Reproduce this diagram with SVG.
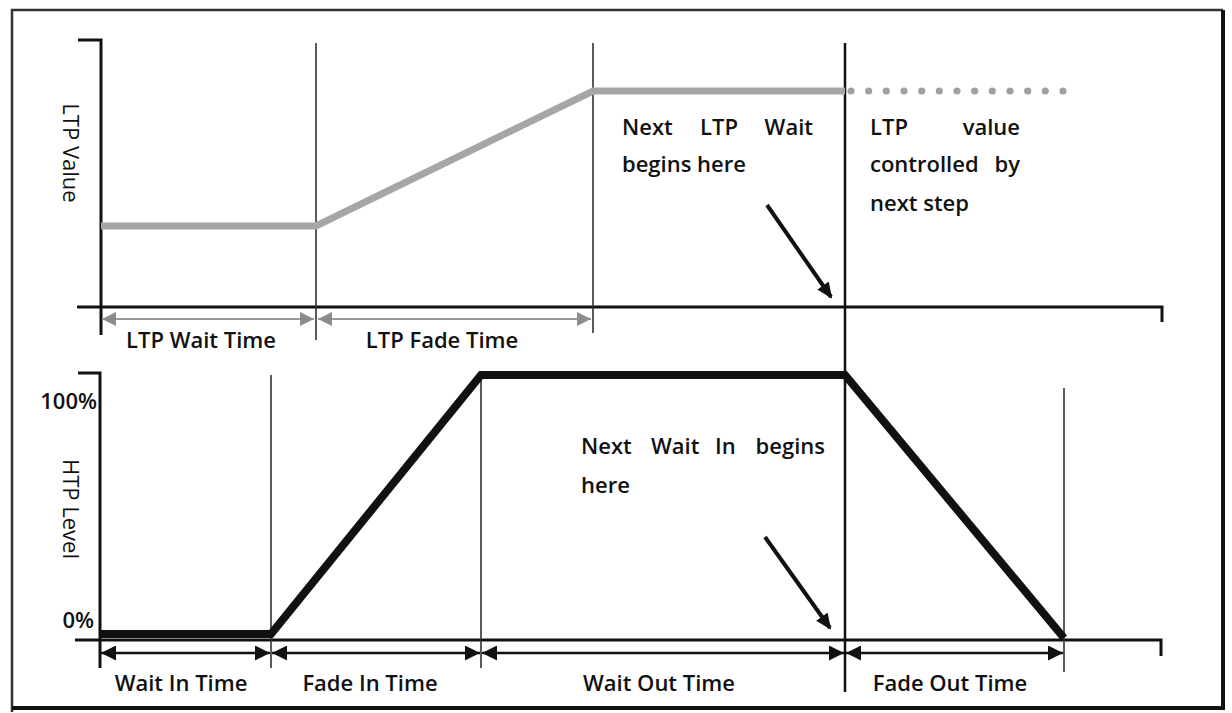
<svg xmlns="http://www.w3.org/2000/svg" width="1232" height="713" viewBox="0 0 1232 713">
<defs>
<style>
.txt{font-family:"Open Sans","Liberation Sans",sans-serif;font-weight:600;font-size:22px;fill:#111}
.axlbl{font-family:"Open Sans","Liberation Sans",sans-serif;font-size:22px;fill:#111}
.axis{fill:none;stroke:#111;stroke-width:3}
.guide{stroke:#333;stroke-width:1.6}
.gdim{stroke:#999;stroke-width:2.2;fill:none}
.bdim{stroke:#111;stroke-width:2.6;fill:none}
.call{stroke:#111;stroke-width:4}
</style>
<marker id="ga" viewBox="0 0 14 14" refX="14" refY="7" markerWidth="14" markerHeight="14" markerUnits="userSpaceOnUse" orient="auto-start-reverse">
<path d="M0,0 L14,7 L0,14 Z" fill="#8c8c8c"/>
</marker>
<marker id="ba" viewBox="0 0 15 15" refX="15" refY="7.5" markerWidth="15" markerHeight="15" markerUnits="userSpaceOnUse" orient="auto-start-reverse">
<path d="M0,0 L15,7.5 L0,15 Z" fill="#111"/>
</marker>
<marker id="ca" viewBox="0 0 16 16" refX="14" refY="8" markerWidth="16" markerHeight="16" markerUnits="userSpaceOnUse" orient="auto">
<path d="M0,1 L16,8 L0,15 Z" fill="#111"/>
</marker>
</defs>
<rect width="1232" height="713" fill="#fff"/>
<g id="frame">
<path d="M12,712 V10 H1223" fill="none" stroke="#333" stroke-width="2.5"/>
<path d="M1223,10 V708 H12" fill="none" stroke="#111" stroke-width="4"/>
</g>
<g id="ltp-panel">
<path class="axis" d="M78,40 H101 V335"/>
<path class="axis" d="M77,307 H1162 V322"/>
<line class="guide" x1="316" y1="43" x2="316" y2="340"/>
<line class="guide" x1="593" y1="43" x2="593" y2="333"/>
<line x1="845" y1="43" x2="845" y2="692" stroke="#111" stroke-width="2.5"/>
<polyline points="101,226 316,226 593,91 845,91" fill="none" stroke="#a6a6a6" stroke-width="7"/>
<g fill="#a0a0a0">
<circle cx="851" cy="91" r="3.6"/><circle cx="868.7" cy="91" r="3.6"/><circle cx="886.3" cy="91" r="3.6"/><circle cx="904" cy="91" r="3.6"/><circle cx="921.7" cy="91" r="3.6"/><circle cx="939.3" cy="91" r="3.6"/><circle cx="957" cy="91" r="3.6"/><circle cx="974.7" cy="91" r="3.6"/><circle cx="992.3" cy="91" r="3.6"/><circle cx="1010" cy="91" r="3.6"/><circle cx="1027.7" cy="91" r="3.6"/><circle cx="1045.3" cy="91" r="3.6"/><circle cx="1063" cy="91" r="3.6"/>
</g>
<text class="axlbl" transform="translate(63,153) rotate(90)" text-anchor="middle">LTP Value</text>
</g>
<g id="htp-panel">
<path class="axis" d="M78,373 H100 V668"/>
<path class="axis" d="M75,640 H1161 V656"/>
<line class="guide" x1="271" y1="375" x2="271" y2="668"/>
<line class="guide" x1="481" y1="375" x2="481" y2="668"/>
<line class="guide" x1="1064" y1="388" x2="1064" y2="672"/>
<polyline points="100,634 271,634 481,375 845,375 1064,638" fill="none" stroke="#111" stroke-width="8"/>
<text class="txt" x="97" y="409" text-anchor="end">100%</text>
<text class="txt" x="94" y="628" text-anchor="end">0%</text>
<text class="axlbl" transform="translate(63,509) rotate(90)" text-anchor="middle">HTP Level</text>
</g>
<g id="connectors">
<line class="gdim" x1="102" y1="319" x2="314" y2="319" marker-start="url(#ga)" marker-end="url(#ga)"/>
<line class="gdim" x1="318" y1="319" x2="591" y2="319" marker-start="url(#ga)" marker-end="url(#ga)"/>
<line class="bdim" x1="101" y1="653" x2="270" y2="653" marker-start="url(#ba)" marker-end="url(#ba)"/>
<line class="bdim" x1="272" y1="653" x2="480" y2="653" marker-start="url(#ba)" marker-end="url(#ba)"/>
<line class="bdim" x1="482" y1="653" x2="844" y2="653" marker-start="url(#ba)" marker-end="url(#ba)"/>
<line class="bdim" x1="846" y1="653" x2="1063" y2="653" marker-start="url(#ba)" marker-end="url(#ba)"/>
<line class="call" x1="767" y1="205" x2="831" y2="297" marker-end="url(#ca)"/>
<line class="call" x1="765" y1="537" x2="830" y2="628" marker-end="url(#ca)"/>
</g>
<g id="labels">
<text class="txt" x="201" y="348" text-anchor="middle">LTP Wait Time</text>
<text class="txt" x="442" y="348" text-anchor="middle">LTP Fade Time</text>
<text class="txt" x="181" y="691" text-anchor="middle">Wait In Time</text>
<text class="txt" x="370" y="691" text-anchor="middle">Fade In Time</text>
<text class="txt" x="659" y="691" text-anchor="middle">Wait Out Time</text>
<text class="txt" x="950" y="691" text-anchor="middle">Fade Out Time</text>
</g>
<g id="note-ltp-wait">
<text class="txt" y="135"><tspan x="622">Next</tspan><tspan x="700">LTP</tspan><tspan x="813" text-anchor="end">Wait</tspan></text>
<text class="txt" x="622" y="172">begins here</text>
</g>
<g id="note-ltp-value">
<text class="txt" y="135"><tspan x="870">LTP</tspan><tspan x="1020" text-anchor="end">value</tspan></text>
<text class="txt" y="172"><tspan x="870">controlled</tspan><tspan x="1020" text-anchor="end">by</tspan></text>
<text class="txt" x="870" y="211">next step</text>
</g>
<g id="note-wait-in">
<text class="txt" y="454"><tspan x="581">Next</tspan><tspan x="651">Wait</tspan><tspan x="715">In</tspan><tspan x="825" text-anchor="end">begins</tspan></text>
<text class="txt" x="581" y="493">here</text>
</g>
</svg>
